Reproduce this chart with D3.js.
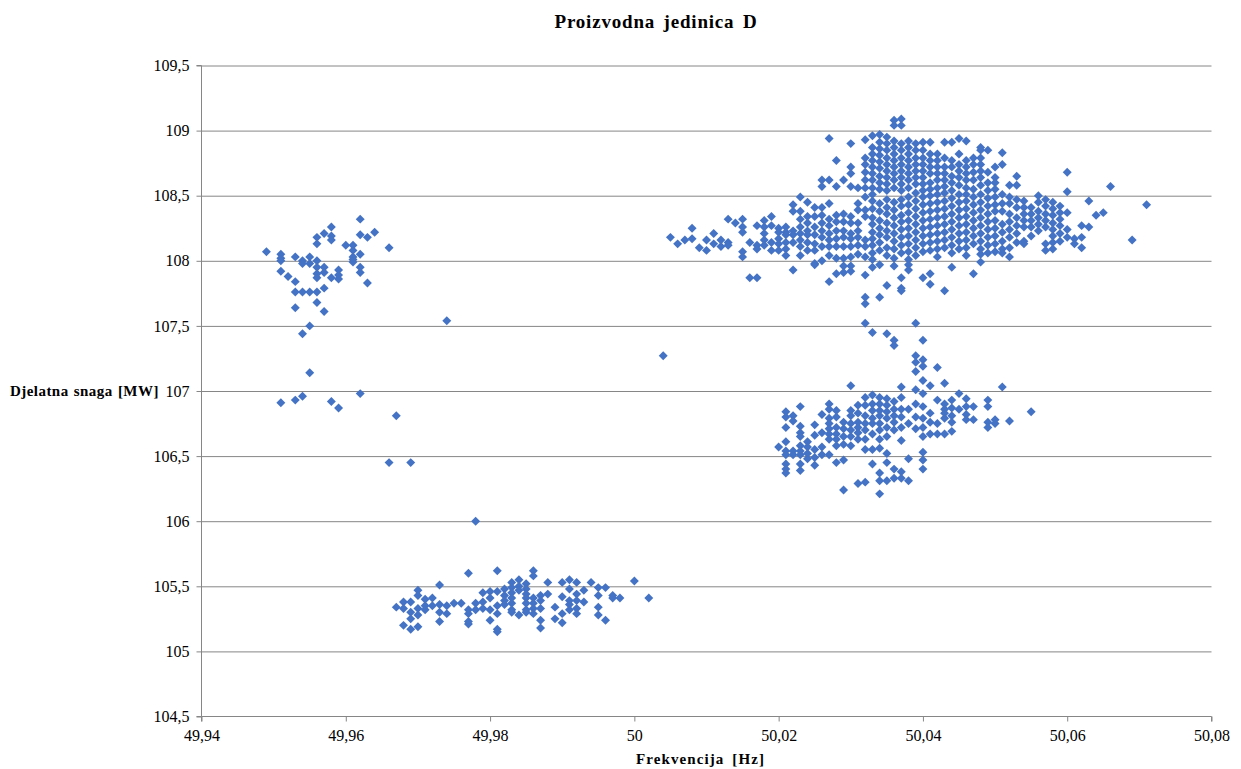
<!DOCTYPE html>
<html><head><meta charset="utf-8">
<script src="https://cdn.jsdelivr.net/npm/d3@7"></script>
<style>
body{margin:0;background:#fff}
text{font-family:"Liberation Serif","Times New Roman",serif;fill:#000}
</style>
</head><body>
<svg id="c" width="1241" height="769"></svg>
<script>
const chartTitle = "Proizvodna jedinica D";
const xTitle = "Frekvencija [Hz]";
const yTitle = "Djelatna snaga [MW]";
const xTicks = [49.94, 49.96, 49.98, 50, 50.02, 50.04, 50.06, 50.08];
const yTicks = [104.5, 105, 105.5, 106, 106.5, 107, 107.5, 108, 108.5, 109, 109.5];

// each entry: [frequency Hz, [active power MW values measured at that frequency]]
const clusterLeft = [
  [49.949, [108.07]],
  [49.951, [108.05, 108.02, 108.00, 107.92, 106.91]],
  [49.952, [107.88]],
  [49.953, [108.03, 107.84, 107.76, 107.64, 106.93]],
  [49.954, [108.00, 107.98, 107.76, 107.44, 106.96]],
  [49.955, [108.03, 107.98, 107.76, 107.50, 107.14]],
  [49.956, [108.18, 108.13, 108.00, 107.95, 107.90, 107.87, 107.76, 107.68]],
  [49.957, [108.21, 107.95, 107.91, 107.79, 107.61]],
  [49.958, [108.26, 108.19, 108.16, 107.87, 106.92]],
  [49.959, [107.93, 107.89, 107.86, 106.87]],
  [49.960, [108.12]],
  [49.961, [108.12, 108.08, 108.03, 108.01, 107.99]],
  [49.962, [108.32, 108.20, 108.05, 107.95, 107.91, 106.98]],
  [49.963, [108.18, 107.83]],
  [49.964, [108.22]],
  [49.966, [108.10]]
];

const clusterStray = [
  [49.966, [106.45]],
  [49.967, [106.81]],
  [49.969, [106.45]],
  [49.974, [107.54]],
  [49.978, [106.00]],
  [50.004, [107.27]]
];

const clusterBottom = [
  [49.967, [105.34]],
  [49.968, [105.38, 105.33, 105.20]],
  [49.969, [105.38, 105.30, 105.25, 105.17]],
  [49.970, [105.47, 105.43, 105.33, 105.28, 105.19]],
  [49.971, [105.40, 105.35, 105.32]],
  [49.972, [105.41, 105.35]],
  [49.973, [105.51, 105.36, 105.30, 105.23]],
  [49.974, [105.35, 105.29]],
  [49.975, [105.37]],
  [49.976, [105.37]],
  [49.977, [105.60, 105.32, 105.29, 105.23, 105.21]],
  [49.978, [105.37, 105.32]],
  [49.979, [105.45, 105.38, 105.33]],
  [49.980, [105.46, 105.41, 105.32, 105.24]],
  [49.981, [105.62, 105.46, 105.35, 105.29, 105.17, 105.15]],
  [49.982, [105.48, 105.43, 105.39, 105.36]],
  [49.983, [105.53, 105.49, 105.45, 105.41, 105.37, 105.32, 105.30]],
  [49.984, [105.55, 105.50, 105.47, 105.28]],
  [49.985, [105.52, 105.48, 105.44, 105.41, 105.37, 105.32, 105.30]],
  [49.986, [105.62, 105.58, 105.41, 105.37, 105.33, 105.29]],
  [49.987, [105.43, 105.39, 105.33, 105.24, 105.18]],
  [49.988, [105.53, 105.44]],
  [49.989, [105.34, 105.25]],
  [49.990, [105.53, 105.42, 105.29, 105.22]],
  [49.991, [105.55, 105.48, 105.39, 105.36, 105.32]],
  [49.992, [105.53, 105.44, 105.39, 105.33, 105.29]],
  [49.993, [105.47, 105.38]],
  [49.994, [105.53]],
  [49.995, [105.49, 105.43, 105.34, 105.28]],
  [49.996, [105.49, 105.24]],
  [49.997, [105.43, 105.41]],
  [49.998, [105.41]],
  [50.000, [105.54]],
  [50.002, [105.41]]
];

const clusterMain = [
  [50.005, [108.18]],
  [50.006, [108.13]],
  [50.007, [108.16]],
  [50.008, [108.25, 108.17]],
  [50.009, [108.10]],
  [50.010, [108.16, 108.08]],
  [50.011, [108.21, 108.13]],
  [50.012, [108.16, 108.11]],
  [50.013, [108.32, 108.14, 108.12]],
  [50.014, [108.29]],
  [50.015, [108.32, 108.26, 108.22, 108.07, 108.03]],
  [50.016, [108.14, 107.87]],
  [50.017, [108.27, 108.12, 108.09, 107.87]],
  [50.018, [108.31, 108.26, 108.21, 108.16, 108.12]],
  [50.019, [108.34, 108.27, 108.14, 108.08]],
  [50.020, [108.25, 108.22, 108.17, 108.13, 108.08]],
  [50.021, [108.26, 108.22, 108.20, 108.14, 108.09, 108.04]],
  [50.022, [108.43, 108.38, 108.23, 108.20, 108.14, 107.93]],
  [50.023, [108.49, 108.38, 108.32, 108.26, 108.21, 108.16, 108.11, 108.04]],
  [50.024, [108.45, 108.34, 108.29, 108.23, 108.20, 108.14, 108.08]],
  [50.025, [108.41, 108.34, 108.26, 108.20, 108.13, 108.08, 107.98, 107.97]],
  [50.026, [108.62, 108.57, 108.41, 108.35, 108.29, 108.23, 108.18, 108.11, 108.00]],
  [50.027, [108.94, 108.62, 108.44, 108.32, 108.27, 108.21, 108.16, 108.11, 108.04, 107.84]],
  [50.028, [108.77, 108.57, 108.35, 108.30, 108.23, 108.17, 108.11, 108.02, 107.90]],
  [50.029, [108.62, 108.36, 108.30, 108.23, 108.18, 108.11, 108.02, 107.96, 107.91]],
  [50.030, [108.90, 108.72, 108.67, 108.57, 108.34, 108.29, 108.21, 108.17, 108.11, 108.03, 107.96, 107.92]],
  [50.031, [108.56, 108.44, 108.39, 108.29, 108.23, 108.18, 108.12, 108.05]],
  [50.032, [108.93, 108.79, 108.74, 108.68, 108.62, 108.56, 108.49, 108.39, 108.34, 108.16, 108.11, 108.03, 107.89, 107.72, 107.67]],
  [50.033, [108.96, 108.87, 108.82, 108.77, 108.72, 108.67, 108.62, 108.56, 108.51, 108.46, 108.40, 108.33, 108.28, 108.22, 108.17, 108.12, 108.06, 108.01, 107.95]],
  [50.034, [108.97, 108.91, 108.86, 108.81, 108.76, 108.71, 108.65, 108.60, 108.55, 108.44, 108.38, 108.31, 108.25, 108.20, 108.14, 108.08, 107.97, 107.72]],
  [50.035, [108.95, 108.90, 108.85, 108.79, 108.74, 108.69, 108.64, 108.59, 108.54, 108.47, 108.41, 108.36, 108.29, 108.23, 108.18, 108.10, 108.04, 107.81]],
  [50.036, [109.08, 109.04, 108.92, 108.87, 108.82, 108.77, 108.72, 108.67, 108.62, 108.56, 108.45, 108.39, 108.33, 108.27, 108.21, 108.15, 108.09, 108.02, 107.96]],
  [50.037, [109.09, 109.04, 108.90, 108.85, 108.79, 108.74, 108.69, 108.64, 108.59, 108.54, 108.47, 108.42, 108.35, 108.30, 108.24, 108.18, 108.12, 108.06, 107.87, 107.79, 107.77]],
  [50.038, [108.92, 108.87, 108.82, 108.77, 108.72, 108.67, 108.62, 108.56, 108.49, 108.43, 108.37, 108.31, 108.25, 108.19, 108.13, 108.07, 108.01, 107.97, 107.93]],
  [50.039, [108.90, 108.85, 108.79, 108.74, 108.69, 108.64, 108.59, 108.52, 108.46, 108.40, 108.34, 108.28, 108.22, 108.16, 108.10, 108.04]],
  [50.040, [108.91, 108.85, 108.79, 108.74, 108.69, 108.64, 108.59, 108.54, 108.49, 108.43, 108.37, 108.31, 108.25, 108.19, 108.13, 108.07, 107.87]],
  [50.041, [108.91, 108.82, 108.77, 108.72, 108.67, 108.60, 108.55, 108.50, 108.44, 108.38, 108.32, 108.26, 108.20, 108.14, 108.08, 107.90, 107.82]],
  [50.042, [108.82, 108.77, 108.72, 108.67, 108.62, 108.56, 108.51, 108.45, 108.39, 108.33, 108.27, 108.21, 108.15, 108.09, 108.03]],
  [50.043, [108.91, 108.79, 108.72, 108.67, 108.62, 108.57, 108.52, 108.46, 108.40, 108.34, 108.28, 108.22, 108.16, 108.10, 107.77]],
  [50.044, [108.91, 108.77, 108.72, 108.65, 108.60, 108.54, 108.48, 108.42, 108.36, 108.30, 108.24, 108.18, 108.12, 108.06, 107.95]],
  [50.045, [108.94, 108.82, 108.74, 108.69, 108.64, 108.58, 108.51, 108.45, 108.39, 108.33, 108.27, 108.21, 108.15, 108.09]],
  [50.046, [108.92, 108.77, 108.72, 108.67, 108.62, 108.56, 108.51, 108.46, 108.40, 108.34, 108.28, 108.22, 108.16, 108.10, 108.04]],
  [50.047, [108.79, 108.74, 108.68, 108.62, 108.55, 108.49, 108.43, 108.37, 108.31, 108.25, 108.19, 108.13, 107.90]],
  [50.048, [108.87, 108.85, 108.79, 108.74, 108.69, 108.64, 108.58, 108.51, 108.45, 108.39, 108.33, 108.27, 108.21, 108.15, 108.09, 108.05, 107.99]],
  [50.049, [108.85, 108.68, 108.60, 108.54, 108.48, 108.42, 108.36, 108.30, 108.24, 108.18, 108.12, 108.06]],
  [50.050, [108.72, 108.64, 108.60, 108.55, 108.49, 108.43, 108.38, 108.31, 108.25, 108.19, 108.13, 108.07]],
  [50.051, [108.83, 108.74, 108.51, 108.44, 108.38, 108.28, 108.22, 108.15, 108.09, 108.06]],
  [50.052, [108.58, 108.49, 108.44, 108.36, 108.30, 108.24, 108.18, 108.10, 108.03]],
  [50.053, [108.65, 108.58, 108.47, 108.41, 108.33, 108.27, 108.21, 108.14]],
  [50.054, [108.46, 108.41, 108.36, 108.31, 108.26, 108.15, 108.13]],
  [50.055, [108.41, 108.36, 108.31, 108.26, 108.19]],
  [50.056, [108.50, 108.45, 108.38, 108.33, 108.28, 108.23]],
  [50.057, [108.47, 108.42, 108.36, 108.31, 108.26, 108.13, 108.08]],
  [50.058, [108.45, 108.40, 108.35, 108.29, 108.24, 108.19, 108.14, 108.09]],
  [50.059, [108.42, 108.37, 108.32, 108.27, 108.21, 108.15]],
  [50.060, [108.68, 108.53, 108.37, 108.24, 108.18]],
  [50.061, [108.17, 108.13]],
  [50.062, [108.27, 108.18, 108.10]],
  [50.063, [108.46, 108.26]],
  [50.064, [108.35]],
  [50.065, [108.37]],
  [50.066, [108.57]],
  [50.069, [108.16]],
  [50.071, [108.43]]
];

const clusterRightLow = [
  [50.020, [106.57]],
  [50.021, [106.84, 106.80, 106.72, 106.61, 106.54, 106.51, 106.44, 106.40, 106.37]],
  [50.022, [106.81, 106.77, 106.54, 106.51]],
  [50.023, [106.88, 106.73, 106.68, 106.65, 106.58, 106.54, 106.51, 106.44, 106.39]],
  [50.024, [106.61, 106.57, 106.52, 106.48]],
  [50.025, [106.74, 106.66, 106.55, 106.49, 106.43]],
  [50.026, [106.82, 106.68, 106.57, 106.51]],
  [50.027, [106.90, 106.86, 106.79, 106.75, 106.71, 106.67, 106.63, 106.51]],
  [50.028, [106.85, 106.80, 106.72, 106.67, 106.63, 106.58, 106.45]],
  [50.029, [106.76, 106.71, 106.65, 106.59, 106.47, 106.24]],
  [50.030, [107.04, 106.85, 106.81, 106.75, 106.70, 106.65, 106.58]],
  [50.031, [106.89, 106.83, 106.76, 106.72, 106.68, 106.63, 106.29]],
  [50.032, [107.52, 106.95, 106.89, 106.81, 106.75, 106.70, 106.63, 106.55, 106.30]],
  [50.033, [107.45, 106.97, 106.90, 106.85, 106.79, 106.75, 106.67, 106.55, 106.44]],
  [50.034, [106.95, 106.90, 106.85, 106.81, 106.75, 106.70, 106.63, 106.56, 106.37, 106.31, 106.21]],
  [50.035, [107.44, 106.94, 106.89, 106.84, 106.79, 106.72, 106.65, 106.52, 106.45, 106.31]],
  [50.036, [107.39, 107.35, 106.92, 106.86, 106.81, 106.76, 106.70, 106.40, 106.33]],
  [50.037, [107.03, 106.95, 106.86, 106.80, 106.72, 106.62, 106.38, 106.33]],
  [50.038, [106.86, 106.75, 106.48, 106.31]],
  [50.039, [107.52, 107.27, 107.22, 107.15, 107.01, 106.90, 106.80, 106.71]],
  [50.040, [107.39, 107.24, 107.19, 107.08, 106.98, 106.88, 106.79, 106.72, 106.65, 106.53, 106.47, 106.40]],
  [50.041, [107.04, 106.83, 106.76, 106.67]],
  [50.042, [107.18, 106.93, 106.75, 106.67]],
  [50.043, [107.06, 106.90, 106.86, 106.83, 106.79, 106.67]],
  [50.044, [106.93, 106.87, 106.81, 106.76, 106.69]],
  [50.045, [106.98, 106.86]],
  [50.046, [106.94, 106.88, 106.82, 106.78]],
  [50.047, [106.88, 106.78]],
  [50.049, [106.93, 106.88, 106.76, 106.72]],
  [50.050, [106.78, 106.75]],
  [50.051, [107.03]],
  [50.052, [106.77]],
  [50.055, [106.84]]
];

const markerColor = "#4472C4";
const gridColor = "#868686";

const svg = d3.select("#c");
const plotLeft = 201.5, plotRight = 1211.5, plotTop = 65.5, plotBottom = 716.5;
const x = d3.scaleLinear().domain([49.94, 50.08]).range([plotLeft, plotRight]);
const y = d3.scaleLinear().domain([104.5, 109.5]).range([plotBottom, plotTop]);
const fmt = d => String(d).replace(".", ",");

// gridlines
svg.append("g")
  .attr("transform", `translate(${plotLeft},0)`)
  .call(d3.axisLeft(y).tickValues(yTicks.filter(v => v !== 104.5)).tickSize(-(plotRight - plotLeft)).tickFormat(""))
  .call(g => g.select(".domain").remove())
  .call(g => g.selectAll("line").attr("stroke", gridColor).attr("stroke-width", 1));

// y axis
svg.append("g")
  .attr("transform", `translate(${plotLeft},0)`)
  .call(d3.axisLeft(y).tickValues(yTicks).tickSize(5).tickPadding(7).tickFormat(fmt))
  .call(g => g.select(".domain").attr("stroke", gridColor).attr("d", `M-5,${plotTop}H0V${plotBottom}H-5`))
  .call(g => g.selectAll("line").attr("stroke", gridColor))
  .call(g => g.selectAll("text").attr("font-size", 16).attr("font-family", "Liberation Serif, serif").attr("fill", "#000"));

// x axis
svg.append("g")
  .attr("transform", `translate(0,${plotBottom})`)
  .call(d3.axisBottom(x).tickValues(xTicks).tickSize(5).tickPadding(8).tickFormat(fmt))
  .call(g => g.select(".domain").attr("stroke", gridColor).attr("d", `M${plotLeft},5V0H${plotRight}V5`))
  .call(g => g.selectAll("line").attr("stroke", gridColor))
  .call(g => g.selectAll("text").attr("font-size", 16).attr("font-family", "Liberation Serif, serif").attr("fill", "#000"));

// points
const allColumns = [clusterLeft, clusterStray, clusterBottom, clusterMain, clusterRightLow];
const points = allColumns.flatMap(c => c.flatMap(([f, ps]) => ps.map(p => ({f, p}))));
const diamond = d3.symbol().type(d3.symbolSquare).size(40);
svg.append("g").selectAll("path").data(points).join("path")
  .attr("d", diamond)
  .attr("transform", d => `translate(${x(d.f)},${y(d.p)}) rotate(45)`)
  .attr("fill", markerColor);

// titles
svg.append("text").attr("x", 656).attr("y", 28).attr("text-anchor", "middle")
  .attr("font-size", 19).attr("font-weight", "bold")
  .attr("letter-spacing", 0.8).attr("word-spacing", 3).text(chartTitle);
svg.append("text").attr("x", 700.5).attr("y", 764).attr("text-anchor", "middle")
  .attr("font-size", 15).attr("font-weight", "bold")
  .attr("letter-spacing", 1.1).attr("word-spacing", 3).text(xTitle);
svg.append("text").attr("x", 10).attr("y", 396).attr("text-anchor", "start")
  .attr("font-size", 15).attr("font-weight", "bold")
  .attr("letter-spacing", 0.45).attr("word-spacing", 1).text(yTitle);
</script>
</body></html>
